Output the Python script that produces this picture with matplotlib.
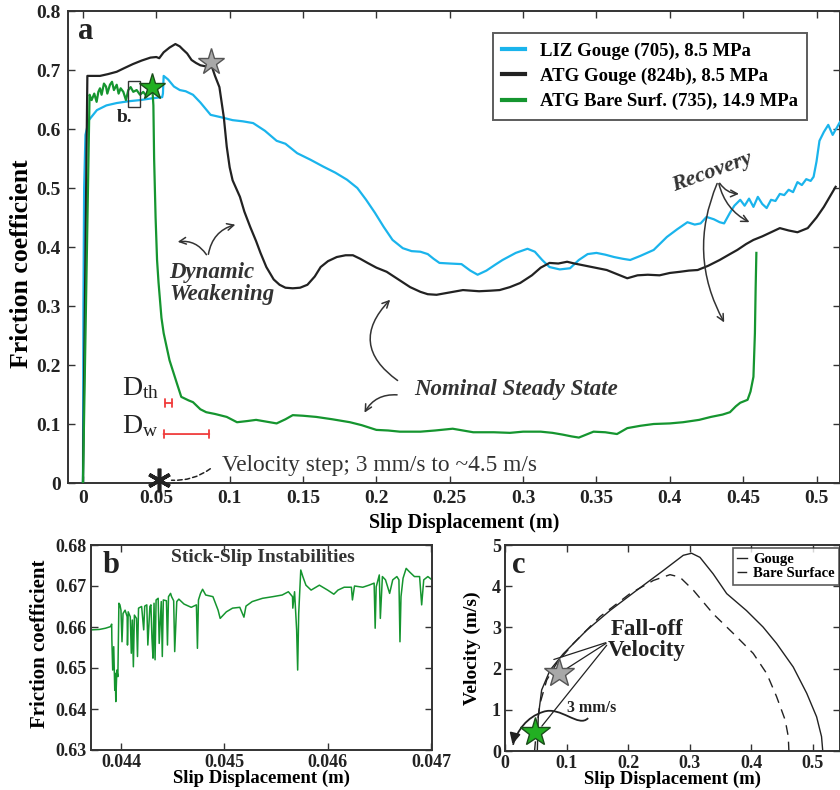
import matplotlib
matplotlib.use("Agg")
import matplotlib.pyplot as plt
from matplotlib.path import Path
from matplotlib.patches import PathPatch, Rectangle

plt.rcParams['font.family'] = ['Liberation Serif', 'DejaVu Serif']
plt.rcParams['font.weight'] = 'bold'
plt.rcParams['mathtext.fontset'] = 'stix'

# ---------------- DATA ----------------
# Panel a: LIZ Gouge (705), 8.5 MPa
liz_x = [0, 0.0003, 0.0008, 0.0017, 0.004, 0.0095, 0.016, 0.023, 0.031, 0.039, 0.047, 0.054, 0.0545, 0.055,
         0.058, 0.062, 0.066, 0.07, 0.075, 0.08, 0.087, 0.094, 0.102, 0.109, 0.116, 0.124, 0.132, 0.138, 0.146,
         0.155, 0.164, 0.172, 0.18, 0.187, 0.193, 0.199, 0.205, 0.211, 0.218, 0.224, 0.23, 0.235, 0.239, 0.243,
         0.25, 0.258, 0.264, 0.269, 0.275, 0.281, 0.286, 0.295, 0.303, 0.308, 0.313, 0.318, 0.325, 0.332, 0.338,
         0.344, 0.35, 0.356, 0.362, 0.368, 0.373, 0.38, 0.389, 0.398, 0.405, 0.412, 0.417, 0.421, 0.425, 0.43,
         0.434, 0.437, 0.441, 0.444, 0.448, 0.451, 0.454, 0.457, 0.46, 0.463, 0.466, 0.469, 0.472, 0.475, 0.478,
         0.481, 0.484, 0.487, 0.49, 0.493, 0.496, 0.498, 0.5, 0.502, 0.505, 0.508, 0.511, 0.514, 0.516]
liz_y = [0, 0.3, 0.5, 0.59, 0.615, 0.632, 0.64, 0.644, 0.647, 0.649, 0.652, 0.654, 0.66, 0.69,
         0.684, 0.672, 0.666, 0.664, 0.658, 0.645, 0.624, 0.62, 0.615, 0.613, 0.61, 0.597, 0.58, 0.575, 0.559,
         0.548, 0.536, 0.526, 0.514, 0.5, 0.48, 0.458, 0.434, 0.412, 0.398, 0.393, 0.392, 0.388, 0.38, 0.373,
         0.372, 0.371, 0.36, 0.353, 0.36, 0.37, 0.378, 0.39, 0.397, 0.392, 0.378, 0.366, 0.362, 0.364, 0.378,
         0.388, 0.39, 0.387, 0.383, 0.38, 0.378, 0.385, 0.395, 0.417, 0.43, 0.442, 0.438, 0.44, 0.451, 0.447,
         0.442, 0.44, 0.458, 0.47, 0.48, 0.47, 0.482, 0.468, 0.485, 0.473, 0.466, 0.48, 0.478, 0.49, 0.488,
         0.497, 0.493, 0.51, 0.505, 0.515, 0.512, 0.519, 0.545, 0.58, 0.595, 0.607, 0.59, 0.603, 0.612]

# Panel a: ATG Gouge (824b), 8.5 MPa
atg_x = [0, 0.003, 0.006, 0.0116, 0.017, 0.023, 0.028, 0.034, 0.04, 0.046, 0.05, 0.052, 0.055, 0.059, 0.063,
         0.066, 0.068, 0.071, 0.074, 0.077, 0.08, 0.084, 0.087, 0.09, 0.093, 0.096, 0.098, 0.1, 0.102, 0.107,
         0.11, 0.114, 0.118, 0.121, 0.125, 0.13, 0.134, 0.138, 0.143, 0.148, 0.153, 0.158, 0.162, 0.167, 0.173,
         0.179, 0.184, 0.189, 0.194, 0.2, 0.207, 0.215, 0.223, 0.23, 0.235, 0.241, 0.25, 0.259, 0.27, 0.278,
         0.284, 0.291, 0.298, 0.306, 0.312, 0.318, 0.324, 0.33, 0.335, 0.339, 0.345, 0.351, 0.357, 0.364, 0.371,
         0.378, 0.385, 0.393, 0.4, 0.407, 0.413, 0.419, 0.426, 0.434, 0.441, 0.446, 0.452, 0.457, 0.463, 0.469,
         0.475, 0.481, 0.487, 0.494, 0.5, 0.505, 0.509, 0.513]
atg_y = [0, 0.69, 0.69, 0.69, 0.693, 0.697, 0.703, 0.71, 0.716, 0.721, 0.722, 0.72, 0.73, 0.738, 0.744,
         0.74, 0.735, 0.728, 0.717, 0.712, 0.708, 0.706, 0.712, 0.69, 0.671, 0.62, 0.57, 0.535, 0.513, 0.485,
         0.46, 0.434, 0.41, 0.39, 0.366, 0.345, 0.336, 0.331, 0.33, 0.331, 0.336, 0.35, 0.366, 0.376, 0.383,
         0.386, 0.386, 0.38, 0.373, 0.365, 0.358, 0.345, 0.332, 0.324, 0.32, 0.319, 0.323, 0.327, 0.325, 0.326,
         0.327, 0.332, 0.339, 0.352, 0.365, 0.373, 0.372, 0.375, 0.372, 0.37, 0.367, 0.364, 0.361, 0.354, 0.347,
         0.352, 0.353, 0.352, 0.356, 0.358, 0.36, 0.361, 0.368, 0.378, 0.388, 0.395, 0.405, 0.412, 0.418, 0.425,
         0.432, 0.428, 0.425, 0.432, 0.45, 0.468, 0.485, 0.502]

# Panel a: ATG Bare Surf. (735), 14.9 MPa
bare_x = [0, 0.0045, 0.0059, 0.0077, 0.0093, 0.0105, 0.0116, 0.0127, 0.0143, 0.0157, 0.0166, 0.0184, 0.0198,
          0.0211, 0.023, 0.0243, 0.0257, 0.0275, 0.0293, 0.0309, 0.0325, 0.0343, 0.0366, 0.0389, 0.0411, 0.0434,
          0.0452, 0.0468, 0.0475, 0.048, 0.0485, 0.0495, 0.0505, 0.0515, 0.0535, 0.055, 0.059, 0.064, 0.067,
          0.072, 0.075, 0.08, 0.084, 0.09, 0.098, 0.105, 0.112, 0.118, 0.125, 0.132, 0.138, 0.143, 0.15, 0.159,
          0.17, 0.182, 0.19, 0.2, 0.208, 0.216, 0.23, 0.24, 0.252, 0.259, 0.266, 0.28, 0.291, 0.3, 0.312, 0.32,
          0.327, 0.333, 0.338, 0.343, 0.348, 0.356, 0.364, 0.371, 0.38, 0.389, 0.4, 0.409, 0.42, 0.428, 0.436,
          0.441, 0.445, 0.448, 0.453, 0.455, 0.457, 0.458, 0.4585, 0.459]
bare_y = [0, 0.658, 0.649, 0.66, 0.646, 0.663, 0.669, 0.658, 0.677, 0.672, 0.66, 0.675, 0.68,
          0.666, 0.675, 0.66, 0.669, 0.663, 0.649, 0.666, 0.671, 0.663, 0.666, 0.658, 0.663, 0.655,
          0.669, 0.663, 0.66, 0.64, 0.55, 0.45, 0.378, 0.34, 0.28, 0.254, 0.208, 0.169, 0.146,
          0.14, 0.137, 0.125, 0.12, 0.117, 0.112, 0.103, 0.105, 0.107, 0.104, 0.101, 0.108, 0.115, 0.114, 0.112,
          0.108, 0.103, 0.098, 0.09, 0.089, 0.087, 0.087, 0.089, 0.092, 0.089, 0.086, 0.086, 0.085, 0.087, 0.087,
          0.085, 0.082, 0.079, 0.077, 0.082, 0.087, 0.086, 0.083, 0.093, 0.097, 0.1, 0.101, 0.103, 0.107, 0.112,
          0.116, 0.12, 0.13, 0.136, 0.141, 0.155, 0.18, 0.254, 0.33, 0.39]

# Fall-off (star) points in panel a
star_gray_a = (0.087, 0.714)
star_green_a = (0.047, 0.671)
step_x = 0.05

# Panel b: stick-slip zoom of bare surface
b_x = [0.04371, 0.04379, 0.04385, 0.04390, 0.04391, 0.043912, 0.04392, 0.04393, 0.04394, 0.043945, 0.04395,
       0.04396, 0.04397, 0.04398, 0.04399, 0.04400, 0.04401, 0.04402, 0.04404, 0.04406, 0.044063, 0.04407,
       0.04409, 0.04410, 0.04411, 0.04412, 0.04413, 0.04415, 0.04416, 0.04417, 0.04420, 0.04422, 0.04423,
       0.04425, 0.04426, 0.04428, 0.04429, 0.04430, 0.04431, 0.04432, 0.04433, 0.04434, 0.04436, 0.04437,
       0.04439, 0.04440, 0.04441, 0.04444, 0.04445, 0.04446, 0.04448, 0.04449, 0.04451, 0.04452, 0.04454,
       0.04456, 0.04461, 0.04468, 0.04473, 0.04474, 0.04475, 0.04477, 0.04479, 0.04482, 0.04489, 0.04494,
       0.04496, 0.04502, 0.04508, 0.04515, 0.04519, 0.04521, 0.04527, 0.04537, 0.04547, 0.04556, 0.04562,
       0.04566, 0.045663, 0.04568, 0.04570, 0.04571, 0.04572, 0.04574, 0.04576, 0.04579, 0.04584, 0.04592,
       0.04600, 0.04606, 0.04610, 0.04616, 0.04623, 0.04624, 0.04626, 0.04634, 0.04640, 0.04645, 0.04646,
       0.04647, 0.04650, 0.04651, 0.04653, 0.04656, 0.04660, 0.04663, 0.04667, 0.04669, 0.04670, 0.04671,
       0.04673, 0.04676, 0.04679, 0.04684, 0.04689, 0.04691, 0.04693, 0.04697, 0.04701]
b_y = [0.6593, 0.6594, 0.6597, 0.6601, 0.6607, 0.6568, 0.6495, 0.6552, 0.6446, 0.6487, 0.6418,
       0.6495, 0.6479, 0.6658, 0.6654, 0.6641, 0.6564, 0.6633, 0.6641, 0.6625, 0.6556, 0.6637,
       0.6625, 0.6536, 0.6617, 0.6503, 0.6629, 0.6621, 0.6528, 0.6646, 0.6650, 0.6593, 0.6651,
       0.6654, 0.6556, 0.6650, 0.6654, 0.6572, 0.6524, 0.6658, 0.6520, 0.6666, 0.6670, 0.6560,
       0.6662, 0.6528, 0.6666, 0.6664, 0.6556, 0.6674, 0.6682, 0.6674, 0.6664, 0.6540, 0.6662,
       0.6668, 0.6656, 0.6648, 0.6654, 0.6548, 0.6666, 0.6682, 0.6692, 0.6678, 0.6674, 0.6641,
       0.6621, 0.6637, 0.6646, 0.6648, 0.6624, 0.6651, 0.6662, 0.6670, 0.6674, 0.6678, 0.6686,
       0.6674, 0.6646, 0.6686, 0.6593, 0.6495, 0.6633, 0.6739, 0.6723, 0.6702, 0.6690, 0.6702,
       0.6690, 0.6680, 0.6690, 0.6697, 0.6697, 0.6666, 0.6700, 0.6697, 0.6702, 0.6707, 0.6597,
       0.6698, 0.6727, 0.6621, 0.6723, 0.6715, 0.6682, 0.6715, 0.6723, 0.6715, 0.6564, 0.6674,
       0.6719, 0.6743, 0.6735, 0.6723, 0.6723, 0.6654, 0.6715, 0.6723, 0.6715]

# Panel c: velocity vs slip
vg_x = [0.0525, 0.054, 0.0595, 0.073, 0.0947, 0.1326, 0.1705, 0.2138, 0.257, 0.2895, 0.303, 0.3166, 0.338,
        0.36, 0.392, 0.419, 0.441, 0.468, 0.49, 0.506, 0.514, 0.516]
vg_y = [0, 0.83, 1.48, 1.96, 2.36, 2.93, 3.41, 3.9, 4.38, 4.75, 4.8, 4.7, 4.3,
        3.82, 3.41, 3.01, 2.61, 2.04, 1.4, 0.83, 0.35, 0]
vb_x = [0.048, 0.051, 0.0568, 0.0677, 0.0839, 0.111, 0.1542, 0.203, 0.241, 0.268, 0.284, 0.306, 0.338,
        0.371, 0.403, 0.425, 0.441, 0.455, 0.46, 0.461]
vb_y = [0, 0.5, 1.15, 1.72, 2.13, 2.61, 3.26, 3.82, 4.14, 4.28, 4.22, 3.9, 3.33,
        2.85, 2.37, 1.88, 1.32, 0.75, 0.35, 0]
star_gray_c = (0.0877, 1.9)
star_green_c = (0.0487, 0.47)

# Tick labels
a_xticks = [0, 0.05, 0.1, 0.15, 0.2, 0.25, 0.3, 0.35, 0.4, 0.45, 0.5]
a_xlabels = ['0', '0.05', '0.1', '0.15', '0.2', '0.25', '0.3', '0.35', '0.4', '0.45', '0.5']
a_yticks = [0, 0.1, 0.2, 0.3, 0.4, 0.5, 0.6, 0.7, 0.8]
a_ylabels = ['0', '0.1', '0.2', '0.3', '0.4', '0.5', '0.6', '0.7', '0.8']
b_xticks = [0.044, 0.045, 0.046, 0.047]
b_xlabels = ['0.044', '0.045', '0.046', '0.047']
b_yticks = [0.63, 0.64, 0.65, 0.66, 0.67, 0.68]
b_ylabels = ['0.63', '0.64', '0.65', '0.66', '0.67', '0.68']
c_xticks = [0, 0.1, 0.2, 0.3, 0.4, 0.5]
c_xlabels = ['0', '0.1', '0.2', '0.3', '0.4', '0.5']
c_yticks = [0, 1, 2, 3, 4, 5]
c_ylabels = ['0', '1', '2', '3', '4', '5']

# ---------------- STYLE ----------------
BLUE = '#1ab4ec'
BLACK = '#222222'
GREEN = '#15952f'
AX = '#333333'
RED = '#f03c3c'

W, H = 840, 790
fig = plt.figure(figsize=(8.4, 7.9), dpi=100)


def frac(l, t, r, b):
    return [l / W, 1 - b / H, (r - l) / W, (b - t) / H]


def style(ax, fs=13, pad=5):
    for s in ax.spines.values():
        s.set_color(AX)
        s.set_linewidth(1.4)
    ax.tick_params(direction='in', top=True, right=True, length=5, width=1.0, colors=AX,
                   labelsize=fs, labelcolor='#222222', pad=pad)
    for lab in ax.get_xticklabels() + ax.get_yticklabels():
        lab.set_fontweight('bold')


# ---------------- PANEL A ----------------
axa = fig.add_axes(frac(68, 11, 840, 483))
axa.plot(liz_x, liz_y, color=BLUE, lw=1.6, label='LIZ Gouge (705), 8.5 MPa', zorder=3)
axa.plot(atg_x, atg_y, color=BLACK, lw=1.6, label='ATG Gouge (824b), 8.5 MPa', zorder=3)
axa.plot(bare_x, bare_y, color=GREEN, lw=1.6, label='ATG Bare Surf. (735), 14.9 MPa', zorder=4)
axa.set_xlim(-0.0102, 0.516)
axa.set_ylim(0, 0.8)
axa.set_xticks(a_xticks)
axa.set_xticklabels(a_xlabels)
axa.set_yticks(a_yticks)
axa.set_yticklabels(a_ylabels)
style(axa, 14)
axa.set_xlabel('Slip Displacement (m)', fontsize=14.5, fontweight='bold')
axa.xaxis.set_label_coords(0.513, -0.063)
axa.set_ylabel('Friction coefficient', fontsize=18.5, fontweight='bold')
axa.yaxis.set_label_coords(-0.045, 0.464)

leg = axa.legend(loc='upper left', bbox_to_anchor=(0.5505, 0.953), borderaxespad=0, frameon=True,
                 fancybox=False, edgecolor=AX, handlelength=1.2, handletextpad=0.8,
                 labelspacing=0.42, borderpad=0.5, prop={'weight': 'bold', 'size': 13.5})
leg.get_frame().set_linewidth(1.4)
for ln in leg.get_lines():
    ln.set_linewidth(3)

axa.plot(*star_gray_a, marker='*', ms=20, mfc='#a8a8a8', mec='#555555', mew=1, zorder=6)
axa.plot(*star_green_a, marker='*', ms=20, mfc='#22b022', mec='#1a4d1a', mew=1, zorder=6)
axa.add_patch(Rectangle((0.0307, 0.637), 0.0082, 0.044, fill=False, ec='#333333', lw=1, zorder=5))
axa.text(0.0286, 0.62, 'b.', fontsize=14, fontweight='bold', ha='center', va='center', color='#222')
axa.text(0.002, 0.765, 'a', fontsize=22, fontweight='bold', ha='center', va='center', color='#222')

# Dynamic weakening
axa.text(0.059, 0.338, 'Dynamic\nWeakening', fontsize=16.5, fontweight='bold', style='italic',
         ha='left', va='center', color='#333', linespacing=1.1)
ap = dict(arrowstyle='->', color='#333', lw=1.1, mutation_scale=12)
axa.annotate('', xy=(0.0627, 0.408), xytext=(0.0852, 0.383),
             arrowprops=dict(ap, connectionstyle='arc3,rad=0.35'))
axa.annotate('', xy=(0.1057, 0.439), xytext=(0.0852, 0.383),
             arrowprops=dict(ap, connectionstyle='arc3,rad=-0.35'))

# Recovery
axa.text(0.429, 0.527, 'Recovery', fontsize=16, fontweight='bold', style='italic',
         ha='center', va='center', rotation=20, color='#333')
axa.annotate('', xy=(0.449, 0.49), xytext=(0.433, 0.512),
             arrowprops=dict(ap, connectionstyle='arc3,rad=0.3'))
axa.annotate('', xy=(0.456, 0.44), xytext=(0.433, 0.512),
             arrowprops=dict(ap, connectionstyle='arc3,rad=0.25'))
axa.annotate('', xy=(0.438, 0.268), xytext=(0.433, 0.512),
             arrowprops=dict(ap, connectionstyle='arc3,rad=0.25'))

# Nominal steady state
axa.text(0.295, 0.158, 'Nominal Steady State', fontsize=16.5, fontweight='bold', style='italic',
         ha='center', va='center', color='#333')
axa.annotate('', xy=(0.2107, 0.314), xytext=(0.216, 0.171),
             arrowprops=dict(ap, connectionstyle='arc3,rad=-0.6'))
axa.annotate('', xy=(0.191, 0.115), xytext=(0.216, 0.149),
             arrowprops=dict(ap, connectionstyle='arc3,rad=0.35'))

# D_th / D_w
axa.text(0.0265, 0.149, r'D$_{\mathregular{th}}$', fontsize=20, fontweight='normal', ha='left',
         va='baseline', color='#222')
axa.text(0.0265, 0.084, r'D$_{\mathregular{w}}$', fontsize=20, fontweight='normal', ha='left',
         va='baseline', color='#222')
axa.annotate('', xy=(0.0627, 0.1356), xytext=(0.054, 0.1356),
             arrowprops=dict(arrowstyle='|-|', color=RED, lw=1.3, mutation_scale=3))
axa.annotate('', xy=(0.088, 0.083), xytext=(0.053, 0.083),
             arrowprops=dict(arrowstyle='|-|', color=RED, lw=1.3, mutation_scale=3))

# Velocity step
axa.plot([step_x + 0.002], [0.005], marker=(6, 2, 0), ms=17, mew=2.6, color='#222', clip_on=False, zorder=7)
axa.annotate('', xy=(0.0585, 0.005), xytext=(0.0883, 0.027),
             arrowprops=dict(arrowstyle='-', ls=(0, (3, 2)), color='#222', lw=1.1,
                             connectionstyle='arc3,rad=-0.2'))
axa.text(0.0948, 0.03, 'Velocity step; 3 mm/s to ~4.5 m/s', fontsize=16.8, fontweight='normal',
         ha='left', va='center', color='#333')

# ---------------- PANEL B ----------------
axb = fig.add_axes(frac(91, 545, 432, 750))
axb.plot(b_x, b_y, color=GREEN, lw=1.1)
axb.set_xlim(0.04371, 0.04701)
axb.set_ylim(0.63, 0.68)
axb.set_xticks(b_xticks)
axb.set_xticklabels(b_xlabels)
axb.set_yticks(b_yticks)
axb.set_yticklabels(b_ylabels)
style(axb, 13, pad=3)
axb.set_xlabel('Slip Displacement (m)', fontsize=13.5, fontweight='bold', labelpad=-1)
axb.set_ylabel('Friction coefficient', fontsize=15, fontweight='bold')
axb.yaxis.set_label_coords(-0.12, 0.52)
axb.text(0.505, 0.94, 'Stick-Slip Instabilities', transform=axb.transAxes, fontsize=14,
         fontweight='bold', ha='center', va='center', color='#333')
axb.text(0.06, 0.9, 'b', transform=axb.transAxes, fontsize=22, fontweight='bold', ha='center',
         va='center', color='#222')

# ---------------- PANEL C ----------------
axc = fig.add_axes(frac(505, 545, 840, 751))
axc.plot(vg_x, vg_y, color='#222', lw=1.0, label='Gouge')
axc.plot(vb_x, vb_y, color='#222', lw=1.0, ls=(0, (7, 5)), label='Bare Surface')
axc.set_xlim(0, 0.544)
axc.set_ylim(0, 5)
axc.set_xticks(c_xticks)
axc.set_xticklabels(c_xlabels)
axc.set_yticks(c_yticks)
axc.set_yticklabels(c_ylabels)
style(axc, 13, pad=3)
axc.set_xlabel('Slip Displacement (m)', fontsize=13.5, fontweight='bold', labelpad=-1)
axc.set_ylabel('Velocity (m/s)', fontsize=14, fontweight='bold')
axc.yaxis.set_label_coords(-0.072, 0.5)
legc = axc.legend(loc='upper left', bbox_to_anchor=(0.68, 0.985), borderaxespad=0, frameon=True,
                  fancybox=False, edgecolor=AX, handlelength=0.7, handletextpad=0.4,
                  labelspacing=0.1, borderpad=0.3, prop={'weight': 'bold', 'size': 10.5})
legc.get_frame().set_linewidth(1.2)
axc.text(0.04, 0.9, 'c', transform=axc.transAxes, fontsize=22, fontweight='bold', ha='center',
         va='center', color='#222')

axc.plot(*star_gray_c, marker='*', ms=22, mfc='#a8a8a8', mec='#555555', mew=1, zorder=6)
axc.plot(*star_green_c, marker='*', ms=22, mfc='#22b022', mec='#1a4d1a', mew=1, zorder=6)
axc.text(0.23, 2.7, 'Fall-off\nVelocity', fontsize=16.5, fontweight='bold', ha='center', va='center',
         color='#222', linespacing=1.0)
lp = dict(arrowstyle='-', color='#222', lw=0.9)
axc.annotate('', xy=(0.095, 1.95), xytext=(0.168, 2.65), arrowprops=lp)
axc.annotate('', xy=(0.075, 2.2), xytext=(0.168, 2.65), arrowprops=lp)
axc.annotate('', xy=(0.057, 0.55), xytext=(0.168, 2.62), arrowprops=lp)
axc.text(0.14, 1.05, '3 mm/s', fontsize=11.5, fontweight='bold', ha='center', va='center', color='#222')
verts = [(0.135, 0.8), (0.12, 0.55), (0.09, 1.1), (0.062, 0.95), (0.035, 0.82), (0.02, 0.5), (0.013, 0.15)]
codes = [Path.MOVETO, Path.CURVE4, Path.CURVE4, Path.CURVE4, Path.CURVE4, Path.CURVE4, Path.CURVE4]
axc.add_patch(PathPatch(Path(verts, codes), fill=False, ec='#222', lw=1.3))
axc.annotate('', xy=(0.011, 0.1), xytext=(0.016, 0.4),
             arrowprops=dict(arrowstyle='-|>', color='#222', lw=1.3, mutation_scale=16))

fig.savefig('out.png', dpi=100)
